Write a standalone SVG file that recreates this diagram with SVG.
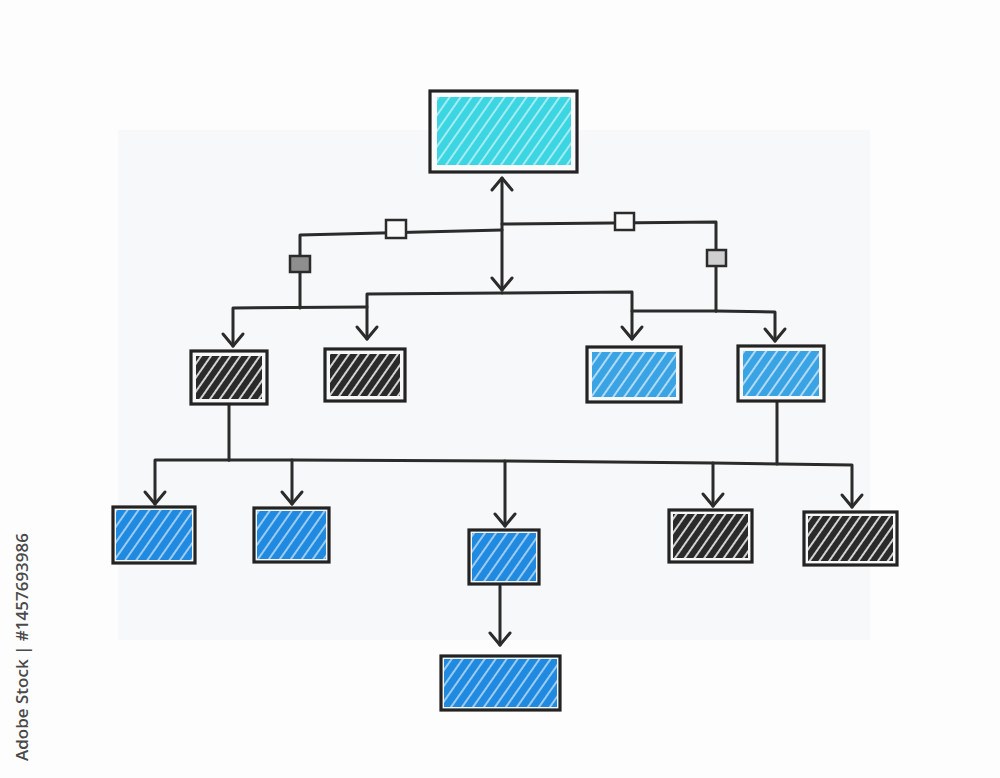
<svg xmlns="http://www.w3.org/2000/svg" width="1000" height="778" viewBox="0 0 1000 778">
<style>
.box{stroke:#232323;stroke-width:3.2;}
.line{fill:none;stroke:#2b2b2b;stroke-width:3;stroke-linejoin:round;stroke-linecap:round;}
.arrow{marker-end:url(#arr);}
.sq{stroke:#2b2b2b;stroke-width:2.5;}
.side{font-family:"Open Sans","Liberation Sans",sans-serif;font-size:17px;font-weight:600;fill:#4a4a4a;}
</style>
<defs>
<pattern id="hCyan" patternUnits="userSpaceOnUse" width="9" height="9" patternTransform="rotate(-55)">
<rect width="9" height="9" fill="#3cd5e2"/><line x1="0" y1="1" x2="9" y2="1" stroke="#bff2f6" stroke-width="1.6"/>
</pattern>
<pattern id="hBlue" patternUnits="userSpaceOnUse" width="9" height="9" patternTransform="rotate(-55)">
<rect width="9" height="9" fill="#3aa3e4"/><line x1="0" y1="1" x2="9" y2="1" stroke="#cfe9f8" stroke-width="1.6"/>
</pattern>
<pattern id="hDeep" patternUnits="userSpaceOnUse" width="9" height="9" patternTransform="rotate(-55)">
<rect width="9" height="9" fill="#1f8ae0"/><line x1="0" y1="1" x2="9" y2="1" stroke="#bcdcf6" stroke-width="1.6"/>
</pattern>
<pattern id="hBlack" patternUnits="userSpaceOnUse" width="8" height="8" patternTransform="rotate(-55)">
<rect width="8" height="8" fill="#2a2a2a"/><line x1="0" y1="1" x2="8" y2="1" stroke="#e6e6e6" stroke-width="1.8"/>
</pattern>
<marker id="arr" markerUnits="userSpaceOnUse" markerWidth="30" markerHeight="30" viewBox="-15 -15 30 30" refX="0" refY="0" orient="auto-start-reverse" overflow="visible">
<path d="M-12,-10 L0,0 L-12,10" fill="none" stroke="#2b2b2b" stroke-width="3" stroke-linecap="round" stroke-linejoin="round"/>
</marker>
</defs>
<rect width="1000" height="778" fill="#fdfdfd"/>
<rect x="118" y="130" width="752" height="510" fill="#f7f8f9"/>
<text class="side" transform="translate(28,761) rotate(-90)">Adobe Stock | #1457693986</text>

<g id="connectors">
<path class="line" d="M502,290 L502,178" marker-start="url(#arr)" marker-end="url(#arr)"/>
<path class="line" d="M502,230 L300,235 L300,308"/>
<path class="line" d="M502,224 L716,222 L716,311"/>
<path class="line arrow" d="M502,293 L367,294 L367,339"/>
<path class="line arrow" d="M502,293 L632,292 L632,339"/>
<path class="line arrow" d="M367,307 L233,308 L233,346"/>
<path class="line" d="M632,311 L716,311"/>
<path class="line arrow" d="M716,311 L775,312 L775,341"/>
<path class="line" d="M229,404 L229,460"/>
<path class="line" d="M777,401 L777,464"/>
<path class="line arrow" d="M229,460 L155,460 L155,504"/>
<path class="line arrow" d="M229,460 L292,460 L292,504"/>
<path class="line arrow" d="M292,460 L505,461 L505,526"/>
<path class="line arrow" d="M505,461 L713,463 L713,506"/>
<path class="line arrow" d="M713,463 L852,465 L852,507"/>
<path class="line arrow" d="M500,586 L500,645"/>
</g>

<g id="j1"><rect class="sq" x="386" y="220" width="20" height="18" fill="#fafafa"/></g>
<g id="j2"><rect class="sq" x="615" y="213" width="19" height="17" fill="#fafafa"/></g>
<g id="j3"><rect class="sq" x="290" y="256" width="20" height="16" fill="#8e8e8e"/></g>
<g id="j4"><rect class="sq" x="707" y="250" width="19" height="16" fill="#cfcfcf"/></g>

<g id="n0"><rect class="box" x="430" y="91" width="147" height="81" fill="#fbfbfb"/><rect x="437" y="97" width="134" height="68" fill="url(#hCyan)"/></g>
<g id="n1"><rect class="box" x="191" y="351" width="76" height="53" fill="#f8f8f8"/><rect x="196" y="356" width="66" height="43" fill="url(#hBlack)"/></g>
<g id="n2"><rect class="box" x="325" y="349" width="80" height="52" fill="#f8f8f8"/><rect x="330" y="354" width="70" height="42" fill="url(#hBlack)"/></g>
<g id="n3"><rect class="box" x="587" y="347" width="94" height="55" fill="#f8f8f8"/><rect x="592" y="352" width="84" height="45" fill="url(#hBlue)"/></g>
<g id="n4"><rect class="box" x="738" y="346" width="86" height="55" fill="#f8f8f8"/><rect x="743" y="351" width="76" height="45" fill="url(#hBlue)"/></g>
<g id="n5"><rect class="box" x="113" y="507" width="82" height="56" fill="#f8f8f8"/><rect x="116" y="510" width="76" height="50" fill="url(#hDeep)"/></g>
<g id="n6"><rect class="box" x="254" y="508" width="75" height="54" fill="#f8f8f8"/><rect x="257" y="511" width="69" height="48" fill="url(#hDeep)"/></g>
<g id="n7"><rect class="box" x="469" y="530" width="70" height="54" fill="#f8f8f8"/><rect x="472" y="533" width="64" height="48" fill="url(#hDeep)"/></g>
<g id="n8"><rect class="box" x="669" y="510" width="83" height="52" fill="#f8f8f8"/><rect x="673" y="514" width="75" height="44" fill="url(#hBlack)"/></g>
<g id="n9"><rect class="box" x="804" y="512" width="93" height="53" fill="#f8f8f8"/><rect x="808" y="516" width="85" height="45" fill="url(#hBlack)"/></g>
<g id="n10"><rect class="box" x="441" y="656" width="119" height="54" fill="#f8f8f8"/><rect x="444" y="659" width="113" height="48" fill="url(#hDeep)"/></g>
</svg>
